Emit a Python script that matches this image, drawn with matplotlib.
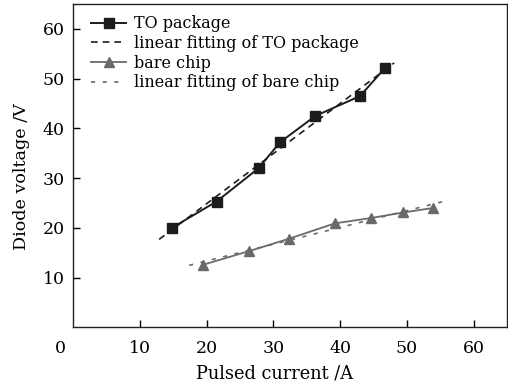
import numpy as np
import matplotlib.pyplot as plt

plt.rcParams['font.family'] = ['DejaVu Serif']

# measured points
to_current = [14.8, 21.5, 27.8, 31.0, 36.3, 43.0, 46.7]
to_voltage = [20.0, 25.3, 32.0, 37.2, 42.5, 46.5, 52.1]
bare_current = [19.5, 26.3, 32.3, 39.2, 44.7, 49.5, 53.9]
bare_voltage = [12.6, 15.3, 17.8, 20.9, 22.0, 23.1, 24.0]

# range over which each fitted line is drawn
to_fit_range = [12.9, 48.1]
bare_fit_range = [17.4, 56.1]

xticks = [10, 20, 30, 40, 50, 60]
yticks = [10, 20, 30, 40, 50, 60]

dark = '#1c1c1c'
grey = '#6a6a6a'

fig = plt.figure(figsize=(5.08, 3.84), dpi=100)
ax = fig.add_axes([0.1437, 0.1474, 0.8543, 0.8422])

k1, b1 = np.polyfit(to_current, to_voltage, 1)
k2, b2 = np.polyfit(bare_current, bare_voltage, 1)
xf1 = np.array(to_fit_range)
xf2 = np.array(bare_fit_range)

ax.plot(to_current, to_voltage, color=dark, lw=1.4, marker='s', ms=6.5,
        label='TO package')
ax.plot(xf1, k1 * xf1 + b1, color=dark, lw=1.2, dashes=(4, 3),
        label='linear fitting of TO package')
ax.plot(bare_current, bare_voltage, color=grey, lw=1.3, marker='^', ms=6.5,
        label='bare chip')
ax.plot(xf2, k2 * xf2 + b2, color=grey, lw=1.2, dashes=(2.5, 4.5),
        label='linear fitting of bare chip')

ax.set_xlim(0, 65)
ax.set_ylim(0, 65)
ax.set_xticks(xticks)
ax.set_yticks(yticks)
ax.tick_params(axis='x', direction='in', length=5, width=1, pad=9, labelsize=12.5)
ax.tick_params(axis='y', direction='in', length=5, width=1, pad=6, labelsize=12.5)
for s in ax.spines.values():
    s.set_linewidth(1.0)
    s.set_color('#222222')

ax.text(-0.03, -0.04, '0', transform=ax.transAxes, ha='center', va='top',
        fontsize=12.5)

ax.set_xlabel('Pulsed current /A', fontsize=12.8)
ax.set_ylabel('Diode voltage /V', fontsize=12.6)
ax.xaxis.set_label_coords(0.465, -0.115)
ax.yaxis.set_label_coords(-0.1, 0.465)

ax.legend(loc='upper left', bbox_to_anchor=(0.027, 0.985), frameon=False,
          fontsize=11.5, numpoints=1, handlelength=2.2, handletextpad=0.5,
          labelspacing=0.17, borderaxespad=0)

fig.savefig('out.png', dpi=100)
